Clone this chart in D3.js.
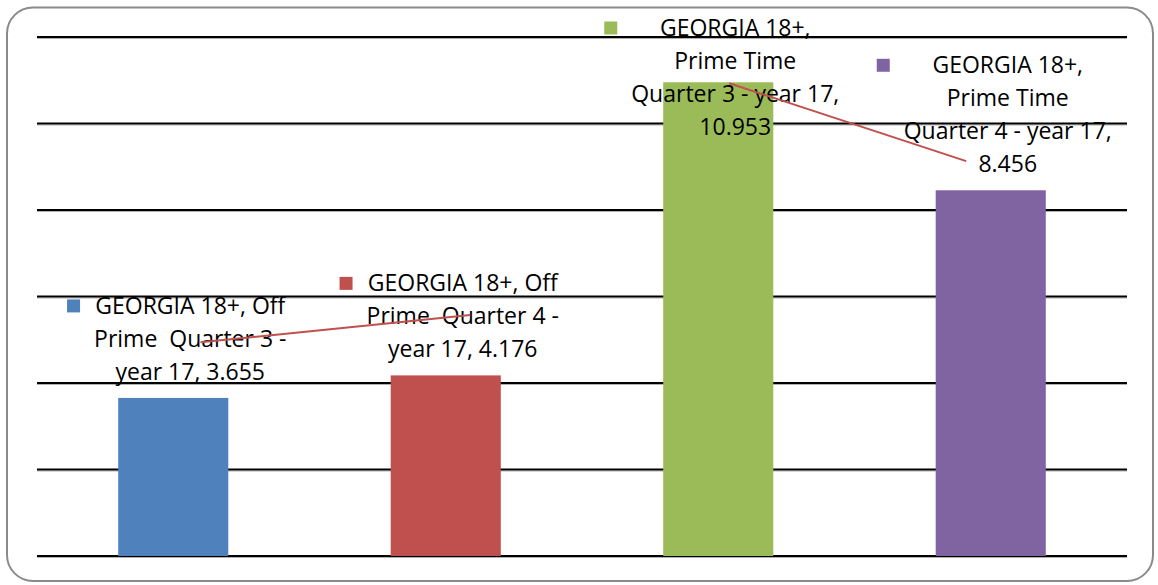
<!DOCTYPE html>
<html>
<head>
<meta charset="utf-8">
<script src="https://cdn.jsdelivr.net/npm/d3@7"></script>
<style>
  body { margin: 0; background: #fff; }
  text { font-family: "Open Sans", "Noto Sans", sans-serif; }
</style>
</head>
<body>
<svg id="chart" width="1158" height="585"></svg>
<script>
// series values (one bar per category)
const categories = ["Off Prime Q3", "Off Prime Q4", "Prime Time Q3", "Prime Time Q4"];
const values = [3.655, 4.176, 10.953, 8.456];
const colors = ["#4F81BD", "#C0504D", "#9BBB59", "#8064A2"];
const labelLines = [
  ["GEORGIA 18+, Off", "Prime  Quarter 3 -", "year 17, 3.655"],
  ["GEORGIA 18+, Off", "Prime  Quarter 4 -", "year 17, 4.176"],
  ["GEORGIA 18+,", "Prime Time", "Quarter 3 - year 17,", "10.953"],
  ["GEORGIA 18+,", "Prime Time", "Quarter 4 - year 17,", "8.456"]
];
const yTicks = [0, 2, 4, 6, 8, 10, 12];

// stray red line segments (x in category units, y in value units)
const trendX = [0.6, 1.59, 2.54, 3.41];
const trendY = [4.94, 5.57, 10.93, 9.13];
const trendSegments = [[0, 1], [2, 3]];

const svg = d3.select("#chart");
const margin = { left: 37, right: 31, top: 37, bottom: 29 };
const width = 1158, height = 585;

// chart border
svg.append("rect")
  .attr("x", 7).attr("y", 7.5)
  .attr("width", 1146).attr("height", 573.5)
  .attr("rx", 26).attr("ry", 26)
  .attr("fill", "white")
  .attr("stroke", "#8a8a8a")
  .attr("stroke-width", 2);

const x = d3.scaleBand()
  .domain(categories)
  .range([margin.left, width - margin.right])
  .paddingInner(0.596)
  .paddingOuter(0.298);

const y = d3.scaleLinear()
  .domain([0, 12])
  .range([height - margin.bottom, margin.top]);

const xLin = d3.scaleLinear()
  .domain([0, categories.length])
  .range([margin.left, width - margin.right]);

// gridlines
const grid = svg.append("g");
grid.selectAll("line.shadow").data(yTicks).join("line")
  .attr("class", "shadow")
  .attr("x1", margin.left).attr("x2", width - margin.right)
  .attr("y1", d => y(d) + 1.5).attr("y2", d => y(d) + 1.5)
  .attr("stroke", "#b0b0b0").attr("stroke-width", 1);
grid.selectAll("line.major").data(yTicks).join("line")
  .attr("class", "major")
  .attr("x1", margin.left).attr("x2", width - margin.right)
  .attr("y1", d => y(d)).attr("y2", d => y(d))
  .attr("stroke", "#000").attr("stroke-width", 2);

// bars
svg.append("g").selectAll("rect").data(values).join("rect")
  .attr("x", (d, i) => x(categories[i]))
  .attr("y", d => y(d))
  .attr("width", x.bandwidth())
  .attr("height", d => y(0) - y(d))
  .attr("fill", (d, i) => colors[i]);

// data labels with legend key
const lineH = 33;
const labels = svg.append("g");
values.forEach((v, i) => {
  const lines = labelLines[i];
  const cx = x(categories[i]) + x.bandwidth() / 2 + 17;
  let firstY = y(v) - 26 - (lines.length - 1) * lineH;
  firstY = Math.max(28, firstY);
  const g = labels.append("g");
  const t = g.append("text")
    .attr("text-anchor", "middle")
    .attr("font-size", 23)
    .attr("fill", "#000")
    .style("white-space", "pre");
  lines.forEach((ln, j) => {
    t.append("tspan")
      .attr("x", cx)
      .attr("y", firstY + j * lineH)
      .attr("dy", "0.35em")
      .text(ln);
  });
  const bb = t.node().getBBox();
  g.append("rect")
    .attr("x", bb.x - 27)
    .attr("y", firstY - 6.5)
    .attr("width", 13).attr("height", 13)
    .attr("fill", colors[i]);
});

// red segments
svg.append("g").selectAll("line").data(trendSegments).join("line")
  .attr("x1", d => xLin(trendX[d[0]])).attr("y1", d => y(trendY[d[0]]))
  .attr("x2", d => xLin(trendX[d[1]])).attr("y2", d => y(trendY[d[1]]))
  .attr("stroke", "#C0504D").attr("stroke-width", 2);
</script>
</body>
</html>
